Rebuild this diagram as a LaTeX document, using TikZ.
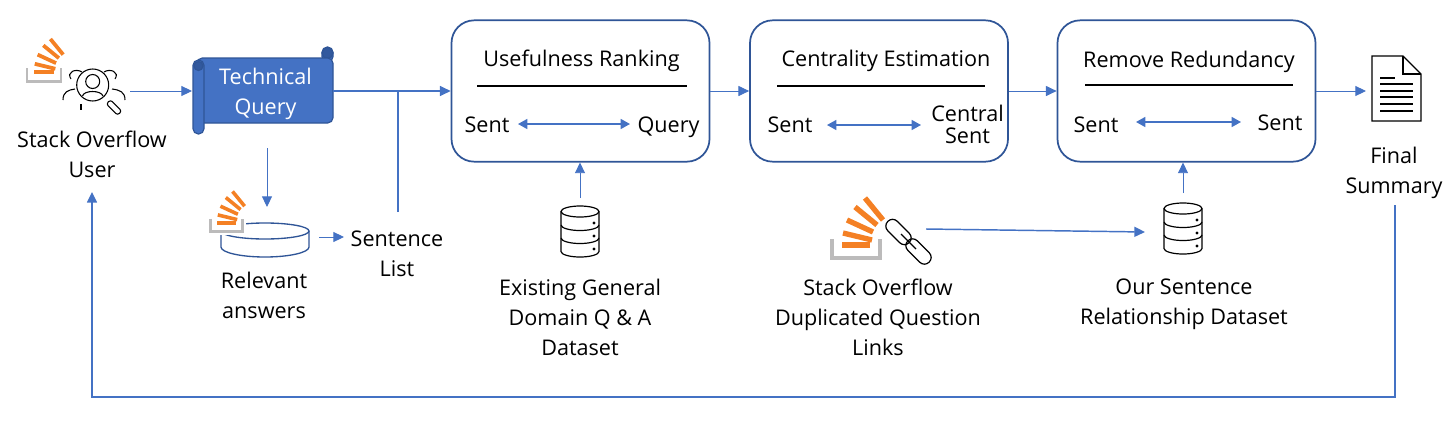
\documentclass[tikz,border=0pt]{standalone}
\usepackage{fontspec}
\setmainfont{Open Sans}
\usetikzlibrary{arrows.meta}
\definecolor{flowblue}{HTML}{4472C4}
\definecolor{darkblue}{HTML}{2F5597}
\definecolor{soorange}{HTML}{F48024}
\definecolor{sogray}{HTML}{BCBBBB}
\begin{document}
\begin{tikzpicture}
  [
  x=0.75pt, y=-0.75pt,
  font=\fontsize{16.2}{22.5}\selectfont,
  flow/.style={draw=flowblue, line width=0.7pt, -{Triangle[length=8pt,width=7.5pt]}},
  flowplain/.style={draw=flowblue, line width=1.1pt},
  both/.style={draw=flowblue, line width=1.1pt, {Triangle[length=7pt,width=7.5pt]}-{Triangle[length=7pt,width=7.5pt]}},
  stage/.style={draw=darkblue, line width=1.3pt, rounded corners=17pt, minimum width=193.5pt, minimum height=106pt},
  label/.style={align=center, inner sep=0pt},
  baselabel/.style={label, anchor=base},
  titlerule/.style={draw=black, line width=2pt},
  roll/.style={fill=flowblue, draw=darkblue, line width=0.9pt, rounded corners=4pt},
  curl/.style={fill=darkblue!85!flowblue, draw=darkblue, line width=0.9pt},
  link/.style={draw, line width=0.9pt, inner sep=0pt, rounded corners=4.8pt, rotate=-45, minimum width=22.5pt, minimum height=10pt},
  pics/sologo/.style={code={
    \begin{scope}[scale=#1]
    \draw[sogray, line width=#1*3pt] (-24,-21) -- (-24,-2) -- (24,-2) -- (24,-21);
    \foreach \a/\b/\c/\d in {-14/-15/14/-15, -13/-27/16/-20, -9/-40/17/-28, -1/-53/21/-35, 9/-62/27/-40} {
      \draw[soorange, line width=#1*4pt] (\a,\b) -- (\c,\d);
    }
    \end{scope}
  }},
  pics/dbicon/.style={code={
    \draw[line width=0.9pt] (-19,5.5) -- (-19,45.5) arc[start angle=180, end angle=0, x radius=19, y radius=5.5] -- (19,5.5);
    \draw[line width=0.9pt] (0,5.5) ellipse[x radius=19, y radius=5.5];
    \draw[line width=0.9pt] (-19,19) arc[start angle=180, end angle=0, x radius=19, y radius=5.5];
    \draw[line width=0.9pt] (-19,32) arc[start angle=180, end angle=0, x radius=19, y radius=5.5];
    \foreach \y in {17,30,43} {
      \fill (14,\y) circle[radius=1.7];
    }
  }}
  ]

\useasboundingbox (0,0) rectangle (1454,422);

% stages
\node[stage] (usefulness) at (580.5,91) {};
\node[stage] (centrality) at (879,91) {};
\node[stage] (redundancy) at (1186.5,91) {};

\node[baselabel] (t1) at (581.5,66) {Usefulness Ranking};
\node[baselabel] (t2) at (886,66) {Centrality Estimation};
\node[baselabel] (t3) at (1189,67) {Remove Redundancy};
\draw[titlerule] (477,86) -- (687,86);
\draw[titlerule] (777,86) -- (985,86);
\draw[titlerule] (1085,85) -- (1293,85);

\node[baselabel] (s1) at (487,132) {Sent};
\node[baselabel] (q1) at (668.5,132) {Query};
\node[baselabel] (s2) at (790,132) {Sent};
\node[label] (c2) at (967.5,124) {Central\\[-6pt]Sent};
\node[baselabel] (s3) at (1096,132) {Sent};
\node[baselabel] (e3) at (1280,130) {Sent};
\coordinate (a1) at (518,124);
\coordinate (b1) at (630,124);
\coordinate (a2) at (827,125);
\coordinate (b2) at (921,125);
\coordinate (a3) at (1136,122);
\coordinate (b3) at (1241,122);
\foreach \n in {1,2,3} {
  \draw[both] (a\n) -- (b\n);
}

% scroll
\draw[roll] (322,47) rectangle (333,62);
\fill[curl] (327.5,53) circle[radius=5.5];
\draw[roll] (197,58) -- (333,58) -- (333,123) -- (197,123) -- cycle;
\draw[roll] (193,60) rectangle (204,134);
\fill[curl] (198.5,66) circle[radius=4.5];
\node[inner sep=0pt, minimum width=105pt, minimum height=49pt] (query) at (263,91) {};
\node[label, text=white] (qtext) at (265.5,94) {Technical\\Query};

% user
\pic at (44,83) {sologo=0.71};
\draw[line width=0.8pt] (92.7,85) circle[radius=16];
\draw[line width=0.8pt] (92.7,81.5) circle[radius=7];
\draw[line width=0.8pt] (82.5,96) .. controls (84,90) and (101,90) .. (103,96);
\draw[line width=0.8pt, rounded corners=2pt, rotate around={-45:(114,107.5)}] (106,104.5) rectangle (122,110.5);
\draw[line width=0.8pt] (71,79) .. controls (66,72) and (76,68) .. (82,72);
\draw[line width=0.8pt] (115,79) .. controls (120,72) and (110,68) .. (104,72);
\draw[line width=0.8pt] (63,100) .. controls (63,92) and (68,90) .. (75,89);
\draw[line width=0.8pt] (125,100) .. controls (125,92) and (120,90) .. (112,89);
\draw[line width=0.8pt] (81,104) -- (81,110);
\node[label] (user) at (92,154) {Stack Overflow\\User};
\coordinate (userout) at (130,91);

% answers
\draw[darkblue, line width=1pt] (221,231) -- (221,247) arc[start angle=180, end angle=0, x radius=44, y radius=10] -- (309,231);
\draw[darkblue, line width=1pt] (265,231) ellipse[x radius=44, y radius=8];
\fill[white] (205,213) rectangle (246,234.5);
\pic at (226.5,233) {sologo=0.67};
\node[label] (answers) at (264,295) {Relevant\\answers};
\coordinate (diskin) at (267,207);
\coordinate (queryout) at (267,148);
\coordinate (diskout) at (319,237);
\node[label] (sentences) at (397,254) {Sentence\\List};
\coordinate (listtop) at (398,212);
\coordinate (listin) at (344,237);

% datasets
\pic at (580,206) {dbicon};
\coordinate (dbone) at (580,198);
\node[label] (general) at (580,317) {Existing General\\Domain Q \& A\\Dataset};
\pic at (1183,203) {dbicon};
\coordinate (dbtwo) at (1183,193);
\node[label] (ours) at (1184,304) {Our Sentence\\Relationship Dataset};

% links
\pic at (856,260) {sologo=1};
\node[link] (linka) at (898.5,232) {};
\node[link] (linkb) at (918.5,251.5) {};
\draw[line width=0.9pt] (901,234) -- (916,249);
\node[label] (duplicated) at (878,317) {Stack Overflow\\Duplicated Question\\Links};
\coordinate (linkout) at (926,229);
\coordinate (dbtwoin) at (1145,232);

% summary
\draw[line width=0.9pt] (1372,56) -- (1403,56) -- (1421,74) -- (1421,121) -- (1372,121) -- cycle;
\draw[line width=0.9pt] (1403,56) -- (1403,74) -- (1421,74);
\draw[line width=0.9pt] (1380,78) -- (1395,78);
\foreach \y in {84,91,97,104,111} {
  \draw[line width=0.9pt] (1380,\y) -- (1413,\y);
}
\node[label] (summary) at (1394,173) {Final\\Summary};
\coordinate (docin) at (1366,91);
\coordinate (backstart) at (1395,205);
\coordinate (backend) at (92,192);

% connectors
\coordinate (branch) at (398,91);
\draw[flow] (userout) -- (192,91);
\draw[flowplain] (333,91) -- (branch);
\draw[flow, line width=1.1pt] (branch) -- (usefulness.west);
\draw[flowplain] (listtop) -- (branch);
\draw[flow] (queryout) -- (diskin);
\draw[flow] (diskout) -- (listin);
\draw[flow] (usefulness.east) -- (centrality.west);
\draw[flow] (centrality.east) -- (redundancy.west);
\draw[flow] (redundancy.east) -- (docin);
\draw[flow] (dbone) -- (usefulness.south -| dbone);
\draw[flow] (dbtwo) -- (redundancy.south -| dbtwo);
\draw[flow, line width=1.1pt] (linkout) -- (dbtwoin);
\draw[flow, line width=1.1pt] (backstart) -- (1395,397) -- (92,397) -- (backend);

\end{tikzpicture}
\end{document}
